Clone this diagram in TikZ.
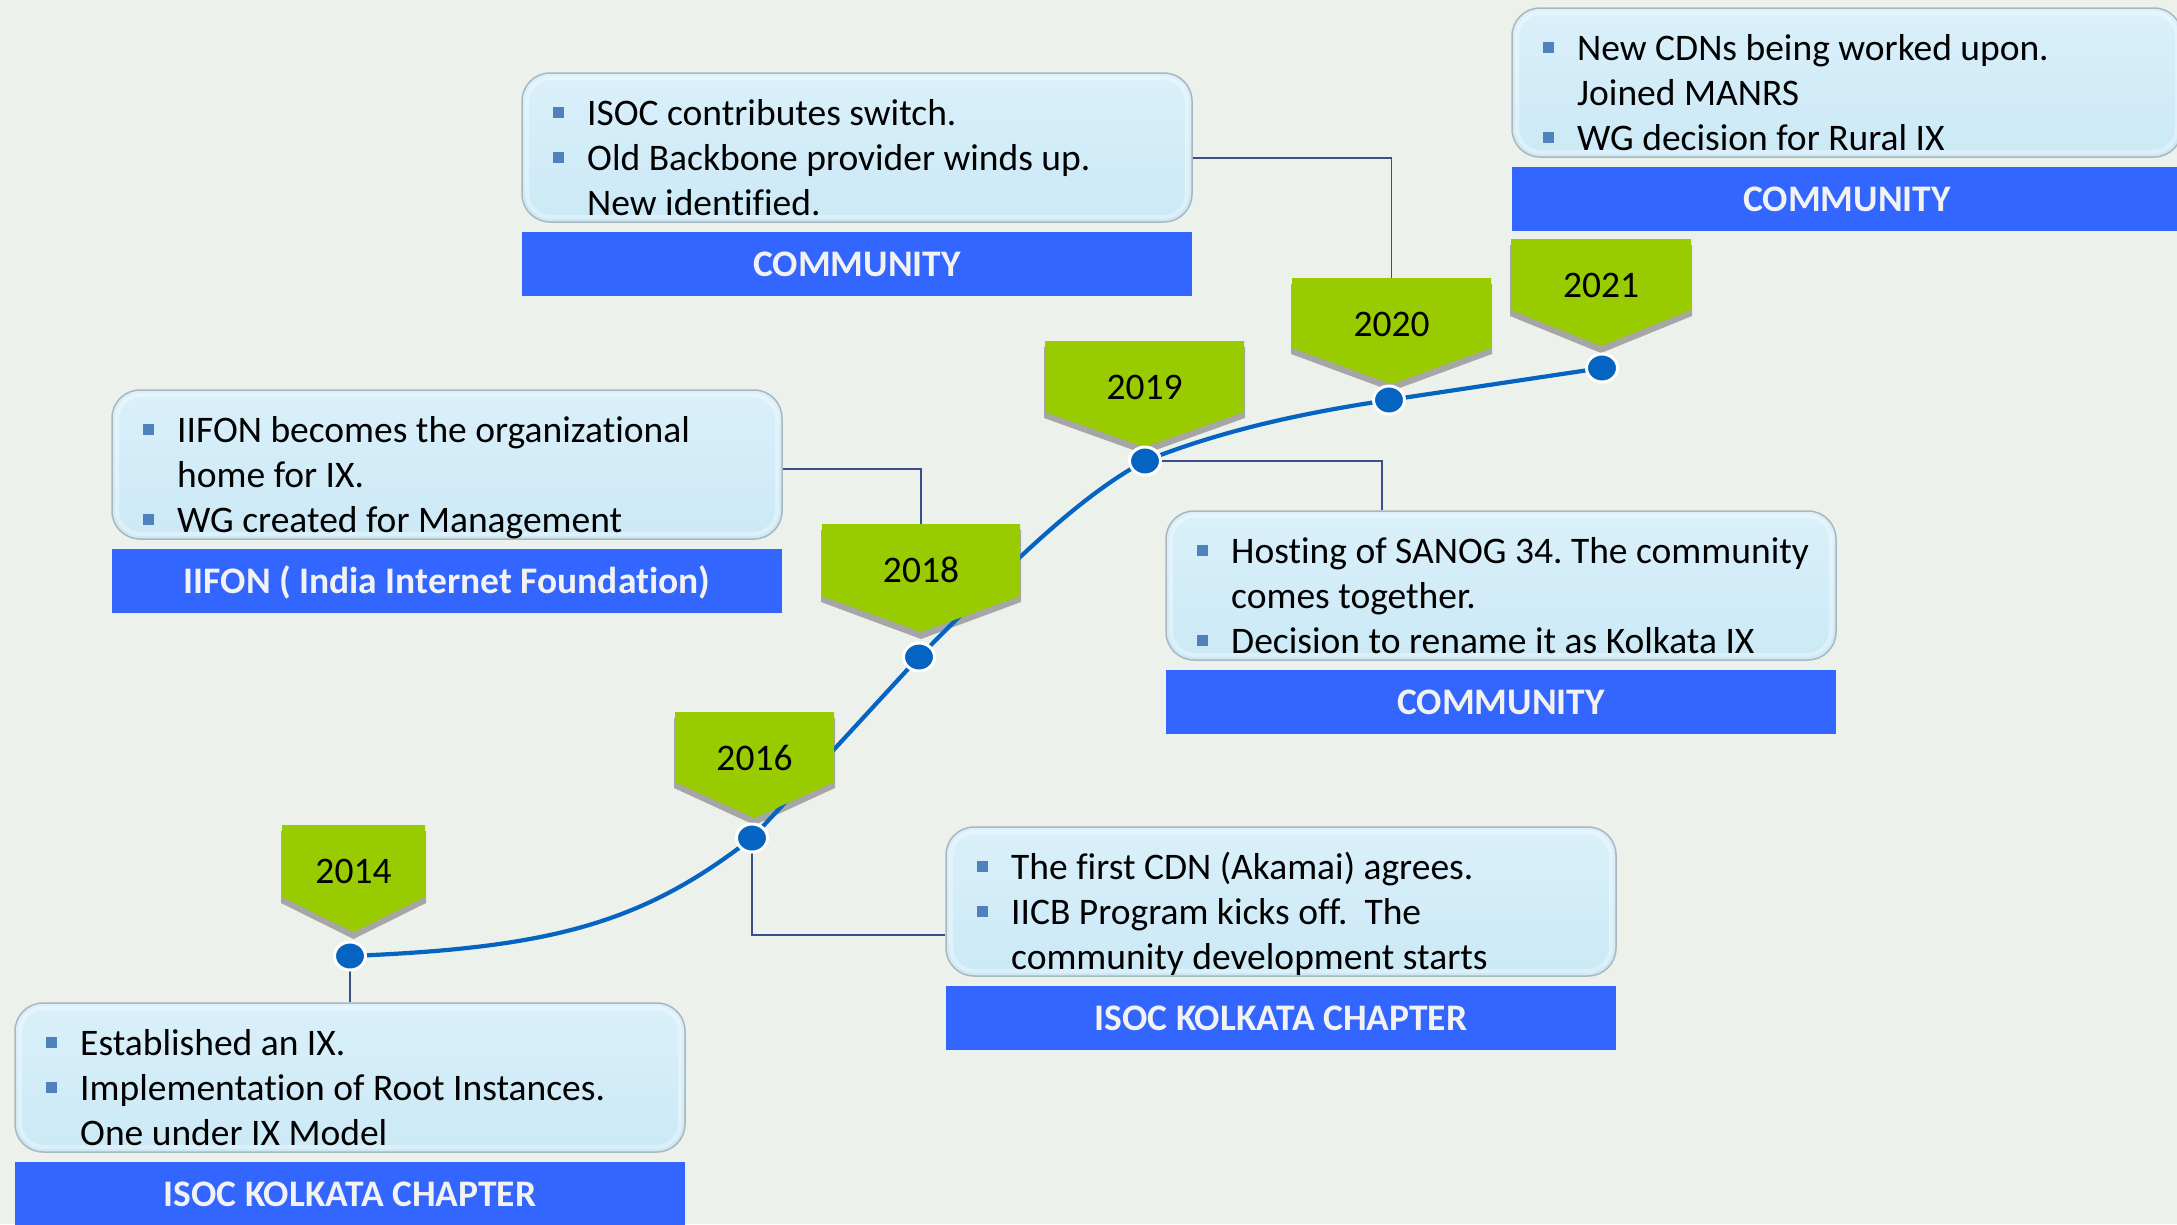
\documentclass[tikz,border=0pt]{standalone}
\usepackage{fontspec}
\setmainfont{Carlito}[Ligatures=NoCommon]
\frenchspacing
\usetikzlibrary{shapes.geometric}
\definecolor{bg}{HTML}{EDF1EB}
\definecolor{tagg}{HTML}{99CC00}
\definecolor{tagsh}{HTML}{A6A6A6}
\definecolor{lineb}{HTML}{0563C1}
\definecolor{labb}{HTML}{3366FF}
\definecolor{boxf}{HTML}{CBE9F6}
\definecolor{boxt}{HTML}{DAF0FA}
\definecolor{boxd}{HTML}{A9B7BE}
\definecolor{connc}{HTML}{3B4E8C}
\definecolor{bulc}{HTML}{4F81BD}
\definecolor{labt}{HTML}{F2F2F2}
\newcommand\bitem[4]{\node[bulst] (#1b) at ({#2+36.5},{#3-13}) {}; \node[txtst] (#1) at ({#2+65},#3) {#4};}
\newcommand\citem[4]{\node[txtst] (#1) at ({#2+65},#3) {#4};}
\newcommand\infobox[4]{\node[boxst] (#1) at ({#2+335},{#3+74.5}) {};
  \draw[glossst] ({#2+5},{#3+5}) rectangle ({#2+665},{#3+144});
  \node[labst] (#1l) at ({#2+335},{#3+191}) {#4};}
\begin{document}
\begin{tikzpicture}[x=1pt,y=-1pt,
  boxst/.style={draw=boxd, line width=1.5pt, rounded corners=28pt, top color=boxt, bottom color=boxf, minimum width=670pt, minimum height=149pt, inner sep=0pt},
  glossst/.style={draw=white, draw opacity=0.35, line width=4pt, rounded corners=24pt},
  labst/.style={fill=labb, minimum width=670pt, minimum height=64pt, inner sep=0pt, text=labt, text height=24pt, text depth=0pt, font=\fontsize{37.5}{40}\selectfont\bfseries},
  txtst/.style={anchor=base west, inner sep=0pt, font=\fontsize{37.5}{45}\selectfont},
  bulst/.style={fill=bulc, minimum size=11pt, inner sep=0pt},
  yearst/.style={inner sep=0pt, text height=25pt, text depth=0pt, font=\fontsize{37.5}{40}\selectfont},
  dotst/.style={ellipse, fill=lineb, draw=white, line width=3pt, minimum width=31pt, minimum height=28pt, inner sep=0pt},
  conn/.style={draw=connc, line width=1.8pt},
  curvest/.style={draw=lineb, line width=4.2pt, line cap=round}
]
\useasboundingbox (0,0) rectangle (2177,1224);
\clip (0,0) rectangle (2177,1224);
\fill[bg] (0,0) rectangle (2177,1224);

% dot positions
\coordinate (p14) at (350,956);
\coordinate (p16) at (752,838);
\coordinate (p18) at (919,657);
\coordinate (p19) at (1145,461);
\coordinate (p20) at (1389,400);
\coordinate (p21) at (1602,368);

% boxes
\infobox{b14}{15}{1003}{ISOC KOLKATA CHAPTER}
\infobox{b16}{946}{827}{ISOC KOLKATA CHAPTER}
\infobox{b18}{112}{390}{IIFON ( India Internet Foundation)}
\infobox{b19}{1166}{511}{COMMUNITY}
\infobox{b20}{522}{73}{COMMUNITY}
\infobox{b21}{1512}{8}{COMMUNITY}

% tag top coordinates
\coordinate (k18) at (921,524);
\coordinate (k20) at (1391.5,278);

% connectors
\coordinate (e16) at (752,935);
\coordinate (e18) at (921,469);
\coordinate (e19) at (1382,461);
\coordinate (e20) at (1391.5,158);
\draw[conn] (p14) -- (b14.north);
\draw[conn] (p16) -- (e16) -- (e16 -| b16.west);
\draw[conn] (e18 -| b18.east) -- (e18) -- (k18);
\draw[conn] (p19) -- (e19) -- (e19 |- b19.north);
\draw[conn] (e20 -| b20.east) -- (e20) -- (k20);

% tag shadows
\foreach \L/\R/\T/\S/\P in {282/425/825/897/932, 675/834/712/782/818, 822/1020/524/596/632, 1045/1244/341/412/447, 1292/1491/278/348/384, 1511/1691/239/310/346}{
  \fill[tagsh] (\L-1,\T+6) -- (\R+1,\T+6) -- (\R+1,\S+6) -- ({(\L+\R)/2},\P+7) -- (\L-1,\S+6) -- cycle;
}

% timeline curve
\draw[curvest] (p14) .. controls (550,948) and (642,924) .. (p16)
  .. controls (808,778) and (863,718) .. (p18)
  .. controls (989,587) and (1070,501) .. (p19)
  .. controls (1225,429) and (1309,412) .. (p20)
  -- (p21);

% tags
\foreach \n/\L/\R/\T/\S/\P/\yr in {14/282/425/825/897/932/2014, 16/675/834/712/782/818/2016, 18/822/1020/524/596/632/2018, 19/1045/1244/341/412/447/2019, 20/1292/1491/278/348/384/2020, 21/1511/1691/239/310/346/2021}{
  \fill[tagg] (\L,\T) -- (\R,\T) -- (\R,\S) -- ({(\L+\R)/2},\P) -- (\L,\S) -- cycle;
  \node[yearst] (t\n) at ({(\L+\R)/2},{\T+46}) {\yr};
}

% dots
\foreach \n in {14,16,18,19,20,21}{
  \node[dotst] (d\n) at (p\n) {};
}

% texts
\bitem{x14a}{15}{1055}{Established an IX.}
\bitem{x14b}{15}{1100}{Implementation of Root Instances.}
\citem{x14c}{15}{1145}{One under IX Model}

\bitem{x16a}{946}{879}{The first CDN (Akamai) agrees.}
\bitem{x16b}{946}{924}{IICB Program kicks off.\ \ The}
\citem{x16c}{946}{969}{community development starts}

\bitem{x18a}{112}{442}{IIFON becomes the organizational}
\citem{x18b}{112}{487}{home for IX.}
\bitem{x18c}{112}{532}{WG created for Management}

\bitem{x19a}{1166}{563}{Hosting of SANOG 34. The community}
\citem{x19b}{1166}{608}{comes together.}
\bitem{x19c}{1166}{653}{Decision to rename it as Kolkata IX}

\bitem{x20a}{522}{125}{ISOC contributes switch.}
\bitem{x20b}{522}{170}{Old Backbone provider winds up.}
\citem{x20c}{522}{215}{New identified.}

\bitem{x21a}{1512}{60}{New CDNs being worked upon.}
\citem{x21b}{1512}{105}{Joined MANRS}
\bitem{x21c}{1512}{150}{WG decision for Rural IX}
\end{tikzpicture}
\end{document}
